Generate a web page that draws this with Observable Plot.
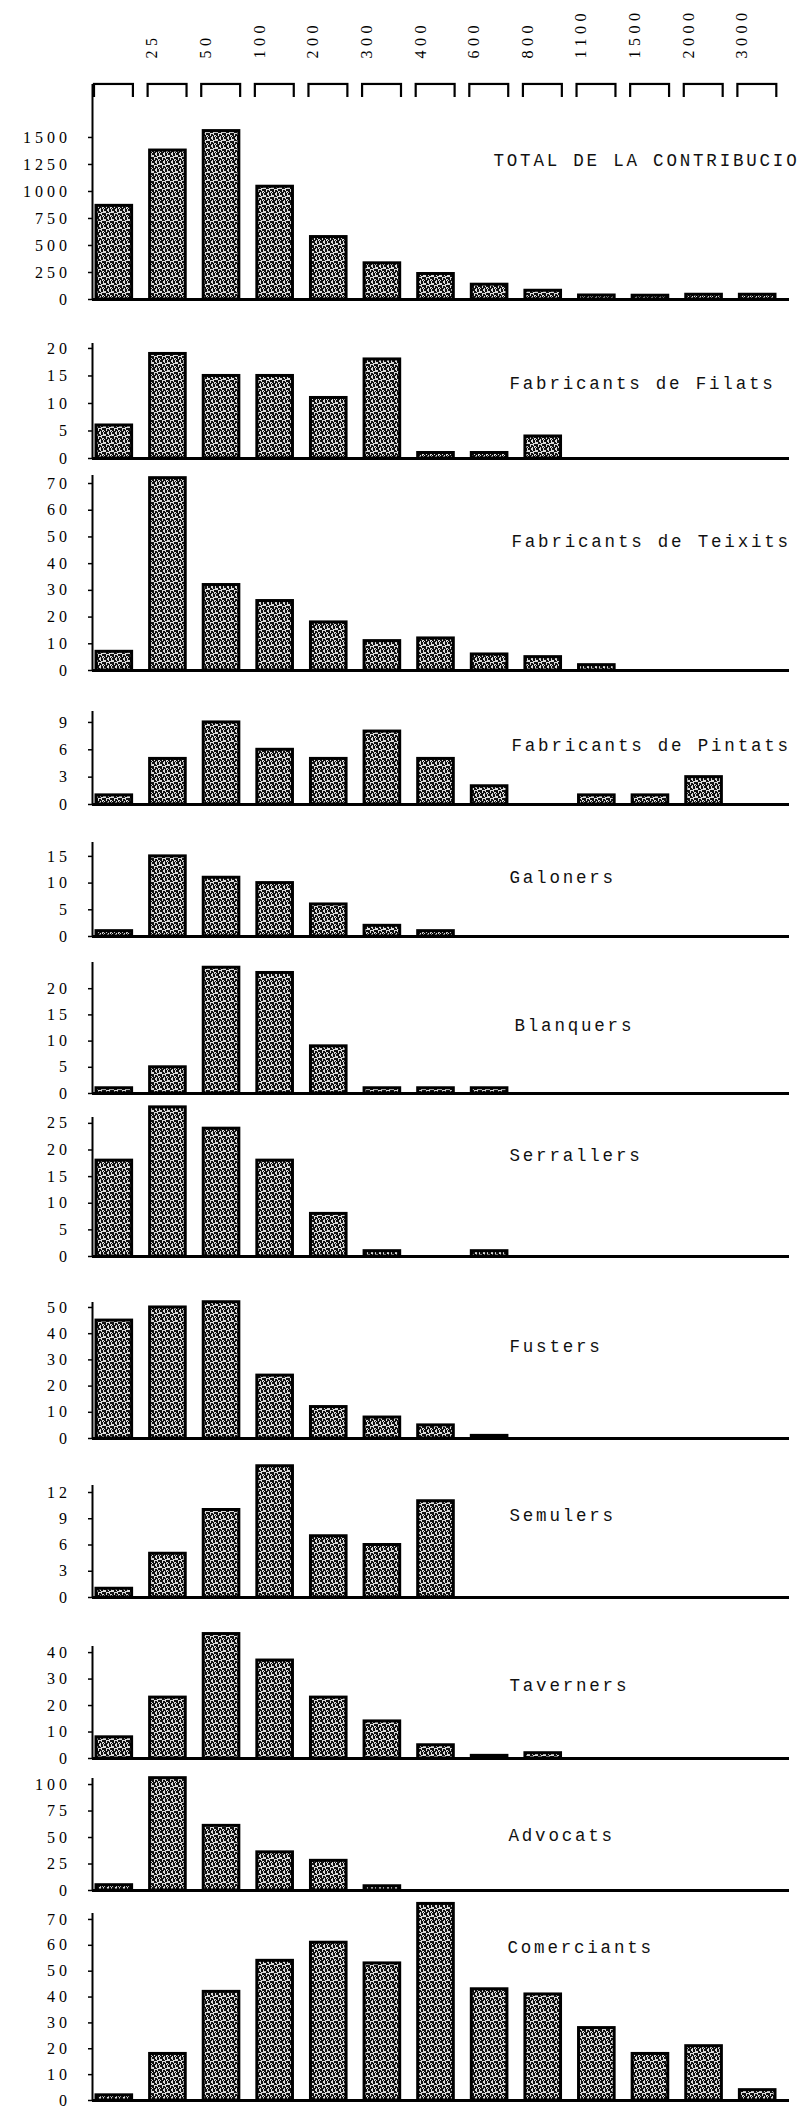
<!DOCTYPE html>
<html><head><meta charset="utf-8">
<script src="https://cdn.jsdelivr.net/npm/d3@7"></script>
<script src="https://cdn.jsdelivr.net/npm/@observablehq/plot@0.6"></script>
<style>
body{margin:0;background:#fff;}
#chart{width:805px;}
#chart svg{display:block;overflow:visible;}
g[aria-label="y-axis tick label"] text{letter-spacing:4px;}
</style>
</head><body>
<svg width="0" height="0" style="position:absolute">
  <defs>
    <pattern id="stipple" width="8" height="8" patternUnits="userSpaceOnUse">
      <rect width="8" height="8" fill="#dcdcdc"/>
      <g fill="#111">
        <rect x="0" y="0" width="3" height="2"/><rect x="5" y="0" width="2" height="3"/>
        <rect x="2" y="2" width="2" height="2"/><rect x="6" y="4" width="2" height="2"/>
        <rect x="0" y="4" width="2" height="3"/><rect x="3" y="5" width="2" height="2"/>
        <rect x="1" y="7" width="3" height="1"/><rect x="5" y="6" width="1" height="2"/>
        <rect x="7" y="7" width="1" height="1"/><rect x="4" y="3" width="1" height="1"/>
      </g>
    </pattern>
  </defs>
</svg>
<div id="chart"></div>
<script>
// 13 contribution bins, boundaries labelled on top
const bins = ["<25","25-50","50-100","100-200","200-300","300-400","400-600","600-800","800-1100","1100-1500","1500-2000","2000-3000",">3000"];
const edgeLabels = ["25","50","100","200","300","400","600","800","1100","1500","2000","3000"];

const total       = [867, 1379, 1559, 1044, 578, 335, 236, 137, 81, 37, 35, 44, 44];
const filats      = [6, 19, 15, 15, 11, 18, 1, 1, 4, 0, 0, 0, 0];
const teixits     = [7, 72, 32, 26, 18, 11, 12, 6, 5, 2, 0, 0, 0];
const pintats     = [1, 5, 9, 6, 5, 8, 5, 2, 0, 1, 1, 3, 0];
const galoners    = [1, 15, 11, 10, 6, 2, 1, 0, 0, 0, 0, 0, 0];
const blanquers   = [1, 5, 24, 23, 9, 1, 1, 1, 0, 0, 0, 0, 0];
const serrallers  = [18, 28, 24, 18, 8, 1, 0, 1, 0, 0, 0, 0, 0];
const fusters     = [45, 50, 52, 24, 12, 8, 5, 1, 0, 0, 0, 0, 0];
const semulers    = [1, 5, 10, 15, 7, 6, 11, 0, 0, 0, 0, 0, 0];
const taverners   = [8, 23, 47, 37, 23, 14, 5, 1, 2, 0, 0, 0, 0];
const advocats    = [5, 106, 61, 36, 28, 4, 0, 0, 0, 0, 0, 0, 0];
const comerciants = [2, 18, 42, 54, 61, 53, 76, 43, 41, 28, 18, 21, 4];

const titles = ["TOTAL DE LA CONTRIBUCIO","Fabricants de Filats","Fabricants de Teixits","Fabricants de Pintats","Galoners","Blanquers","Serrallers","Fusters","Semulers","Taverners","Advocats","Comerciants"];
const series = [total, filats, teixits, pintats, galoners, blanquers, serrallers, fusters, semulers, taverners, advocats, comerciants];
const tickSets = [
  [0,250,500,750,1000,1250,1500],
  [0,5,10,15,20],
  [0,10,20,30,40,50,60,70],
  [0,3,6,9],
  [0,5,10,15],
  [0,5,10,15,20],
  [0,5,10,15,20,25],
  [0,10,20,30,40,50],
  [0,3,6,9,12],
  [0,10,20,30,40],
  [0,25,50,75,100],
  [0,10,20,30,40,50,60,70]
];
const axisTopValues = [1870, 20.9, 73, 10.2, 17.6, 25, 26.1, 51.9, 12.8, 42.3, 105.7, 72.3];

// layout (page pixel positions)
const layout = [
  {top:97,   axisTop:97,   base:299,  bottom:320,  titleX:493, titleY:165},
  {top:320,  axisTop:343,  base:458,  bottom:466,  titleX:509, titleY:388},
  {top:466,  axisTop:475,  base:670,  bottom:690,  titleX:511, titleY:546},
  {top:690,  axisTop:711,  base:804,  bottom:822,  titleX:511, titleY:750},
  {top:822,  axisTop:842,  base:936,  bottom:950,  titleX:509, titleY:882},
  {top:950,  axisTop:962,  base:1093, bottom:1100, titleX:514, titleY:1030},
  {top:1100, axisTop:1117, base:1256, bottom:1278, titleX:509, titleY:1160},
  {top:1278, axisTop:1302, base:1438, bottom:1452, titleX:509, titleY:1351},
  {top:1452, axisTop:1485, base:1597, bottom:1616, titleX:509, titleY:1520},
  {top:1616, axisTop:1646, base:1758, bottom:1767, titleX:509, titleY:1690},
  {top:1767, axisTop:1778, base:1890, bottom:1897, titleX:508, titleY:1840},
  {top:1897, axisTop:1913, base:2100, bottom:2108, titleX:507, titleY:1952}
];

const ML = 92, MR = 16;
const baseStyle = {background:"transparent", overflow:"visible", fontFamily:"'Liberation Serif', serif", fontSize:"16px", color:"#000"};
const chart = document.getElementById("chart");

function spaceText(svg, desc, spacing) {
  svg.querySelectorAll(`g[aria-description="${desc}"] text`).forEach(t => t.setAttribute("letter-spacing", spacing));
}

// header: bin boundaries and brackets
const binRows = bins.map((b, i) => ({i, bin: b}));
const header = Plot.plot({
  width: 805, height: 97, marginTop: 82, marginBottom: 0, marginLeft: ML, marginRight: MR,
  x: {domain: [0, 13], axis: null},
  y: {domain: [0, 1.15], axis: null},
  style: baseStyle,
  marks: [
    Plot.rect(binRows, {x1: "i", x2: d => d.i + 1, y1: -1, y2: 1, fill: "none", stroke: "#000", strokeWidth: 2.2, insetLeft: 2, insetRight: 12.7, clip: true}),
    Plot.ruleX([0], {y1: 0, y2: 1, strokeWidth: 2}),
    Plot.text(edgeLabels.map((t, k) => ({k: k + 1, t})), {x: "k", text: "t", frameAnchor: "top", rotate: -90, textAnchor: "start", dy: -24, fontSize: 16, ariaDescription: "bin label"})
  ]
});
spaceText(header, "bin label", "4.5");
chart.appendChild(header);

series.forEach((vals, p) => {
  const L = layout[p];
  const rows = bins.map((b, i) => ({i, bin: b, value: vals[i]})).filter(d => d.value > 0);
  const svg = Plot.plot({
    width: 805,
    height: L.bottom - L.top,
    marginTop: L.axisTop - L.top,
    marginBottom: L.bottom - L.base,
    marginLeft: ML, marginRight: MR,
    x: {domain: [0, 13], axis: null},
    y: {domain: [0, axisTopValues[p]]},
    style: baseStyle,
    marks: [
      Plot.rect(rows, {x1: "i", x2: d => d.i + 1, y1: 0, y2: "value", fill: "url(#stipple)", stroke: "#000", strokeWidth: 3, insetLeft: 4, insetRight: 14}),
      Plot.ruleY([0], {strokeWidth: 3}),
      Plot.ruleX([0], {strokeWidth: 2}),
      Plot.axisY({ticks: tickSets[p], tickSize: 4, tickPadding: 17.5, strokeWidth: 1.5, label: null, tickFormat: d => String(d)}),
      Plot.text([titles[p]], {text: d => d, frameAnchor: "bottom-left", dx: L.titleX - ML, dy: L.titleY - L.base, textAnchor: "start", fontFamily: "'Liberation Mono', monospace", fontSize: 17.5, fill: "#111", ariaDescription: "panel title"})
    ]
  });
  spaceText(svg, "panel title", "2.8");
  chart.appendChild(svg);
});
</script>
</body></html>
